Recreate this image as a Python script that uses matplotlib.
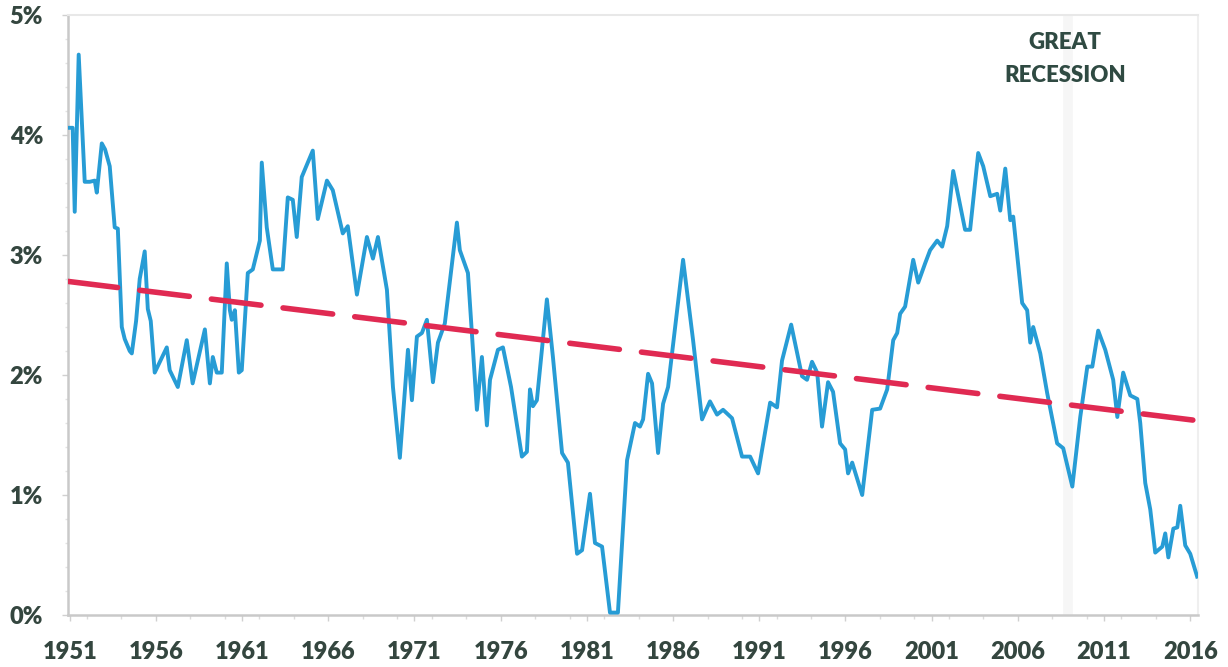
import matplotlib
matplotlib.use("Agg")
import matplotlib.pyplot as plt
from matplotlib.ticker import FixedLocator, MultipleLocator

# ---- data ----
years = [1950.9, 1951.17, 1951.29, 1951.41, 1951.52, 1951.87, 1952.16, 1952.45, 1952.57, 1952.86,
         1953.05, 1953.32, 1953.61, 1953.79, 1954.02, 1954.19, 1954.48, 1954.6, 1954.85, 1955.06,
         1955.35, 1955.53, 1955.7, 1955.93, 1956.63, 1956.8, 1957.27, 1957.79, 1958.13, 1958.84,
         1959.13, 1959.3, 1959.53, 1959.82, 1960.11, 1960.29, 1960.4, 1960.58, 1960.81, 1960.98,
         1961.33, 1961.62, 1962.03, 1962.14, 1962.43, 1962.78, 1963.36, 1963.65, 1963.94, 1964.17,
         1964.46, 1965.1, 1965.39, 1965.92, 1966.26, 1966.84, 1967.13, 1967.66, 1968.24, 1968.59,
         1968.88, 1969.4, 1969.75, 1970.15, 1970.62, 1970.85, 1971.14, 1971.43, 1971.72, 1972.07,
         1972.36, 1972.76, 1973.46, 1973.63, 1974.1, 1974.4, 1974.62, 1974.91, 1975.2, 1975.38,
         1975.84, 1976.13, 1976.6, 1977.23, 1977.52, 1977.7, 1977.87, 1978.1, 1978.68, 1979.03,
         1979.56, 1979.9, 1980.43, 1980.72, 1981.18, 1981.47, 1981.88, 1982.34, 1982.8, 1983.33,
         1983.79, 1984.08, 1984.26, 1984.55, 1984.78, 1985.13, 1985.42, 1985.71, 1986.58, 1987.16,
         1987.68, 1988.14, 1988.55, 1988.9, 1989.42, 1990.0, 1990.47, 1990.93, 1991.63, 1992.03,
         1992.32, 1992.85, 1993.48, 1993.77, 1994.06, 1994.36, 1994.64, 1994.99, 1995.28, 1995.69,
         1995.98, 1996.15, 1996.39, 1996.97, 1997.55, 1998.01, 1998.42, 1998.77, 1999.0, 1999.17,
         1999.46, 1999.93, 2000.22, 2000.62, 2000.91, 2001.32, 2001.61, 2001.9, 2002.25, 2002.94,
         2003.23, 2003.7, 2003.99, 2004.4, 2004.8, 2004.98, 2005.27, 2005.56, 2005.73, 2006.25,
         2006.54, 2006.72, 2006.89, 2007.3, 2007.7, 2008.28, 2008.63, 2009.16, 2009.62, 2010.03,
         2010.32, 2010.66, 2011.07, 2011.53, 2011.77, 2012.11, 2012.52, 2012.93, 2013.1, 2013.39,
         2013.68, 2013.97, 2014.38, 2014.55, 2014.73, 2015.02, 2015.25, 2015.42, 2015.71, 2016.0,
         2016.4]
values = [4.06, 4.06, 3.36, 4.05, 4.67, 3.61, 3.61, 3.62, 3.52, 3.93,
          3.88, 3.74, 3.23, 3.22, 2.40, 2.30, 2.20, 2.18, 2.45, 2.80,
          3.03, 2.55, 2.45, 2.02, 2.23, 2.04, 1.90, 2.29, 1.93, 2.38,
          1.93, 2.15, 2.02, 2.02, 2.93, 2.54, 2.46, 2.54, 2.02, 2.04,
          2.85, 2.88, 3.12, 3.77, 3.23, 2.88, 2.88, 3.48, 3.46, 3.15,
          3.65, 3.87, 3.30, 3.62, 3.54, 3.18, 3.24, 2.67, 3.15, 2.97,
          3.15, 2.71, 1.90, 1.31, 2.21, 1.79, 2.32, 2.35, 2.46, 1.94,
          2.27, 2.43, 3.27, 3.04, 2.85, 2.20, 1.71, 2.15, 1.58, 1.96,
          2.21, 2.23, 1.90, 1.32, 1.36, 1.88, 1.74, 1.79, 2.63, 2.15,
          1.35, 1.27, 0.51, 0.54, 1.01, 0.60, 0.57, 0.02, 0.02, 1.29,
          1.60, 1.57, 1.63, 2.01, 1.93, 1.35, 1.76, 1.90, 2.96, 2.29,
          1.63, 1.78, 1.67, 1.71, 1.64, 1.32, 1.32, 1.18, 1.77, 1.73,
          2.12, 2.42, 1.99, 1.96, 2.11, 2.02, 1.57, 1.94, 1.86, 1.43,
          1.38, 1.18, 1.27, 1.00, 1.71, 1.72, 1.88, 2.29, 2.35, 2.51,
          2.57, 2.96, 2.77, 2.93, 3.04, 3.12, 3.07, 3.24, 3.70, 3.21,
          3.21, 3.85, 3.74, 3.49, 3.51, 3.37, 3.72, 3.29, 3.32, 2.60,
          2.54, 2.27, 2.40, 2.18, 1.85, 1.43, 1.39, 1.07, 1.65, 2.07,
          2.07, 2.37, 2.21, 1.96, 1.65, 2.02, 1.83, 1.80, 1.60, 1.10,
          0.88, 0.52, 0.57, 0.68, 0.48, 0.72, 0.73, 0.91, 0.58, 0.51,
          0.32]

trend_years = [1950.9, 2016.4]
trend_values = [2.78, 1.62]

xtick_years = [1951, 1956, 1961, 1966, 1971, 1976, 1981, 1986, 1991, 1996, 2001, 2006, 2011, 2016]
ytick_values = [0, 1, 2, 3, 4, 5]
ytick_labels = ["0%", "1%", "2%", "3%", "4%", "5%"]

recession_year = 2008.9
annotation_lines = ["GREAT", "RECESSION"]

# ---- figure ----
W, H = 1228, 667
fig = plt.figure(figsize=(W / 100, H / 100), dpi=100)
ax = fig.add_axes([68 / W, 1 - 615 / H, (1198 - 68) / W, (615 - 15) / H])

label_color = "#34463f"
font = "Lato"

ax.axvline(recession_year, color="#f6f6f6", lw=7, zorder=0)

ax.plot(years, values, color="#279cd5", lw=2.8, solid_joinstyle="round", zorder=3)
ax.plot(trend_years, trend_values, color="#e02a52", lw=4.0, dashes=(9.0, 4.0),
        dash_capstyle="round", zorder=4)

ax.set_xlim(1950.9, 2016.45)
ax.set_ylim(0, 5)

ax.set_xticks(xtick_years)
ax.set_xticklabels([str(y) for y in xtick_years])
ax.xaxis.set_minor_locator(MultipleLocator(2))
ax.set_yticks(ytick_values)
ax.set_yticklabels(ytick_labels)
ax.yaxis.set_minor_locator(MultipleLocator(0.2))

for lbl in ax.get_xticklabels() + ax.get_yticklabels():
    lbl.set_fontfamily(font)
    lbl.set_fontweight("heavy")
    lbl.set_fontsize(17)
    lbl.set_color(label_color)

ax.tick_params(axis="x", which="major", length=4, width=1, color="#d0d0d0", pad=15)
ax.tick_params(axis="x", which="minor", length=3, width=1, color="#dcdcdc")
ax.tick_params(axis="y", which="major", length=4, width=1, color="#d0d0d0", pad=14)
ax.tick_params(axis="y", which="minor", length=2, width=1, color="#e2e2e2")

ax.spines["left"].set_color("#c9c9c9")
ax.spines["left"].set_linewidth(1.8)
ax.spines["bottom"].set_color("#c9c9c9")
ax.spines["bottom"].set_linewidth(1.8)
ax.spines["top"].set_color("#e8e8e8")
ax.spines["top"].set_linewidth(1.5)
ax.spines["right"].set_color("#efefef")
ax.spines["right"].set_linewidth(1.5)

ax.text(2008.75, 4.77, annotation_lines[0], ha="center", va="center", fontfamily=font,
        fontweight="heavy", fontsize=16, color="#2f4a42")
ax.text(2008.75, 4.50, annotation_lines[1], ha="center", va="center", fontfamily=font,
        fontweight="heavy", fontsize=16, color="#2f4a42")

fig.savefig("out.png", dpi=100)
